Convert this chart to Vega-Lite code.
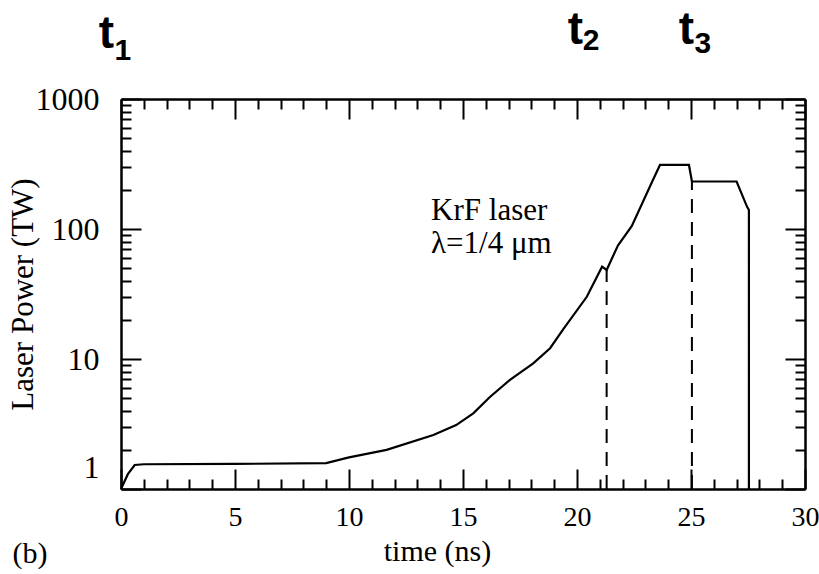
{
  "$schema": "https://vega.github.io/schema/vega-lite/v6.json",
  "width": 684,
  "height": 390,
  "autosize": {"type": "none"},
  "padding": {"left": 121, "top": 99, "right": 14, "bottom": 85},
  "background": "white",
  "config": {
    "view": {"stroke": null},
    "axis": {"grid": false, "domainColor": "black", "tickColor": "black", "labelColor": "black", "titleColor": "black", "domainWidth": 2.5, "tickWidth": 2}
  },
  "datasets": {
    "curve": [
      {"i": 1, "t": 0, "p": 1},
      {"i": 2, "t": 0.3, "p": 1.3},
      {"i": 3, "t": 0.6, "p": 1.53},
      {"i": 4, "t": 1.0, "p": 1.55},
      {"i": 5, "t": 5.0, "p": 1.56},
      {"i": 6, "t": 9.0, "p": 1.58},
      {"i": 7, "t": 10.0, "p": 1.75},
      {"i": 8, "t": 11.65, "p": 2.0},
      {"i": 9, "t": 13.7, "p": 2.6},
      {"i": 10, "t": 14.7, "p": 3.1},
      {"i": 11, "t": 15.45, "p": 3.82},
      {"i": 12, "t": 16.18, "p": 5.1},
      {"i": 13, "t": 17.06, "p": 6.9},
      {"i": 14, "t": 18.08, "p": 9.27},
      {"i": 15, "t": 18.82, "p": 12.1},
      {"i": 16, "t": 19.4, "p": 17.0},
      {"i": 17, "t": 20.43, "p": 30.1},
      {"i": 18, "t": 21.1, "p": 51.3},
      {"i": 19, "t": 21.3, "p": 48.4},
      {"i": 20, "t": 21.8, "p": 75},
      {"i": 21, "t": 22.4, "p": 105},
      {"i": 22, "t": 23.33, "p": 238},
      {"i": 23, "t": 23.64, "p": 311},
      {"i": 24, "t": 24.91, "p": 311},
      {"i": 25, "t": 25.04, "p": 232},
      {"i": 26, "t": 27.0, "p": 232},
      {"i": 27, "t": 27.46, "p": 148},
      {"i": 28, "t": 27.54, "p": 140},
      {"i": 29, "t": 27.54, "p": 1}
    ],
    "dash": [
      {"t": 21.3, "p0": 1, "p1": 48.4},
      {"t": 25.04, "p0": 1, "p1": 232}
    ],
    "notes": [
      {"t": 13.6, "p": 117.3, "label": "KrF laser"},
      {"t": 13.6, "p": 65.4, "label": "λ=1/4 μm"}
    ],
    "tmain": [
      {"t": -0.64, "p": 2467, "label": "t"},
      {"t": 19.93, "p": 2650, "label": "t"},
      {"t": 24.8, "p": 2650, "label": "t"}
    ],
    "tsub": [
      {"t": 0.08, "p": 1995, "label": "1"},
      {"t": 20.62, "p": 2382, "label": "2"},
      {"t": 25.52, "p": 2259, "label": "3"}
    ],
    "panel": [
      {"t": -3.99, "p": 0.27, "label": "(b)"}
    ]
  },
  "resolve": {"axis": {"x": "independent", "y": "independent"}},
  "layer": [
    {
      "data": {"name": "curve"},
      "mark": {"type": "line", "color": "black", "strokeWidth": 2.2, "clip": false},
      "encoding": {
        "x": {"field": "t", "type": "quantitative",
          "scale": {"domain": [0, 30], "nice": false, "zero": false},
          "axis": {"orient": "bottom", "values": [0, 5, 10, 15, 20, 25, 30], "tickSize": -20, "labelPadding": 34,
            "labelFont": "Liberation Serif", "labelFontSize": 28, "labelAngle": 0, "labelBaseline": "top", "labelFlush": false,
            "title": "time (ns)", "titleFont": "Liberation Serif", "titleFontSize": 30, "titleFontWeight": "normal",
            "titleX": 316, "titleY": 71, "titleAlign": "center", "titleBaseline": "alphabetic"}},
        "y": {"field": "p", "type": "quantitative",
          "scale": {"type": "log", "domain": [1, 1000], "nice": false},
          "axis": {"orient": "left", "values": [1, 10, 100, 1000], "format": "d", "tickSize": -20, "labelPadding": 42,
            "labelFont": "Liberation Serif", "labelFontSize": 32, "labelFlush": false,
            "labelBaseline": {"condition": {"test": "datum.value == 1", "value": "alphabetic"}, "value": "middle"},
            "labelOffset": {"condition": {"test": "datum.value == 1", "value": -12}, "value": 0},
            "title": "Laser Power (TW)", "titleFont": "Liberation Serif", "titleFontSize": 31, "titleFontWeight": "normal",
            "titleX": -89, "titleY": 195, "titleAlign": "center", "titleBaseline": "alphabetic", "titleAngle": 270}},
        "order": {"field": "i", "type": "quantitative"}
      }
    },
    {
      "data": {"name": "dash"},
      "mark": {"type": "rule", "color": "black", "strokeWidth": 2, "strokeDash": [14, 9]},
      "encoding": {
        "x": {"field": "t", "type": "quantitative",
          "axis": {"orient": "bottom", "values": [1,2,3,4,6,7,8,9,11,12,13,14,16,17,18,19,21,22,23,24,26,27,28,29], "tickSize": -10, "labels": false, "domain": false, "title": null}},
        "y": {"field": "p0", "type": "quantitative",
          "axis": {"orient": "left", "values": [2,3,4,5,6,7,8,9,20,30,40,50,60,70,80,90,200,300,400,500,600,700,800,900], "tickSize": -10, "labels": false, "domain": false, "title": null}},
        "y2": {"field": "p1"}
      }
    },
    {
      "data": {"name": "notes"},
      "mark": {"type": "text", "font": "Liberation Serif", "fontSize": 31, "align": "left", "baseline": "alphabetic", "color": "black"},
      "encoding": {
        "x": {"field": "t", "type": "quantitative",
          "axis": {"orient": "top", "values": [0, 5, 10, 15, 20, 25, 30], "tickSize": -20, "labels": false, "title": null}},
        "y": {"field": "p", "type": "quantitative",
          "axis": {"orient": "right", "values": [1, 10, 100, 1000], "tickSize": -20, "labels": false, "title": null}},
        "text": {"field": "label"}
      }
    },
    {
      "data": {"name": "tmain"},
      "mark": {"type": "text", "font": "Liberation Sans", "fontWeight": "bold", "fontSize": 46, "align": "center", "baseline": "alphabetic", "color": "black"},
      "encoding": {
        "x": {"field": "t", "type": "quantitative",
          "axis": {"orient": "top", "values": [1,2,3,4,6,7,8,9,11,12,13,14,16,17,18,19,21,22,23,24,26,27,28,29], "tickSize": -10, "labels": false, "domain": false, "title": null}},
        "y": {"field": "p", "type": "quantitative",
          "axis": {"orient": "right", "values": [2,3,4,5,6,7,8,9,20,30,40,50,60,70,80,90,200,300,400,500,600,700,800,900], "tickSize": -10, "labels": false, "domain": false, "title": null}},
        "text": {"field": "label"}
      }
    },
    {
      "data": {"name": "tsub"},
      "mark": {"type": "text", "font": "Liberation Sans", "fontWeight": "bold", "fontSize": 30, "align": "center", "baseline": "alphabetic", "color": "black"},
      "encoding": {
        "x": {"field": "t", "type": "quantitative", "axis": null},
        "y": {"field": "p", "type": "quantitative", "axis": null},
        "text": {"field": "label"}
      }
    },
    {
      "data": {"name": "panel"},
      "mark": {"type": "text", "font": "Liberation Serif", "fontSize": 30, "align": "center", "baseline": "alphabetic", "color": "black"},
      "encoding": {
        "x": {"field": "t", "type": "quantitative", "axis": null},
        "y": {"field": "p", "type": "quantitative", "axis": null},
        "text": {"field": "label"}
      }
    }
  ]
}
